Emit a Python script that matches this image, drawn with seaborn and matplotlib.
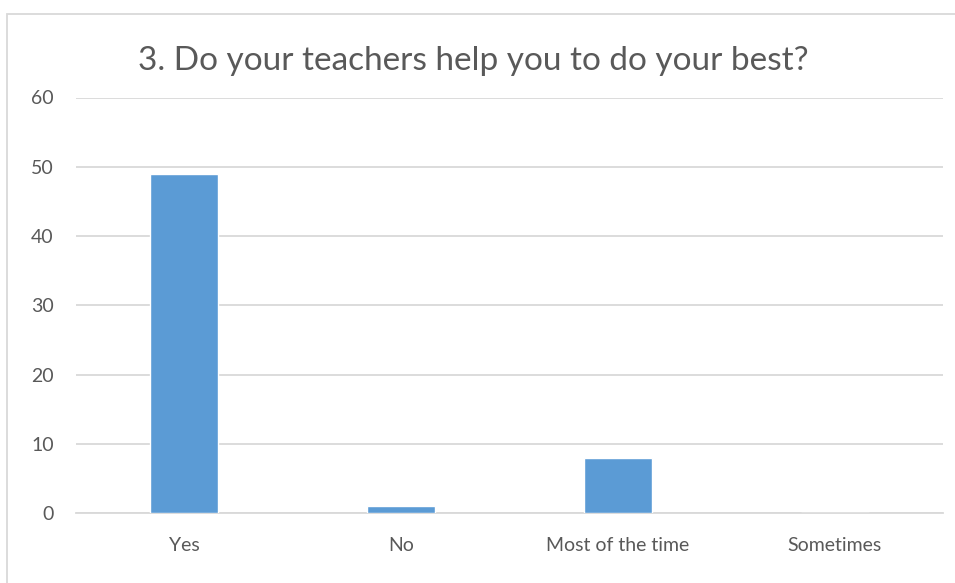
import matplotlib
matplotlib.use("Agg")
import matplotlib.pyplot as plt
import seaborn as sns
import pandas as pd
from matplotlib.patches import Rectangle

categories = ["Yes", "No", "Most of the time", "Sometimes"]
values = [49, 1, 8, 0]
yticks = [0, 10, 20, 30, 40, 50, 60]
title = "3. Do your teachers help you to do your best?"

sns.set_theme(style="white")
plt.rcParams["font.family"] = ["Lato", "DejaVu Sans"]

df = pd.DataFrame({"category": categories, "value": values})

fig = plt.figure(figsize=(9.55, 5.83), dpi=100)
ax = fig.add_axes([76/955, 1 - 513/583, (943 - 76)/955, (513 - 97.5)/583])

sns.barplot(data=df, x="category", y="value", color="#5B9BD5", width=0.314,
            saturation=1, ax=ax, zorder=3)

ax.set_ylim(0, 60)
ax.set_yticks(yticks)
ax.set_yticklabels([str(t) for t in yticks])
ax.set_xlim(-0.5, len(categories) - 0.5)
ax.yaxis.grid(True, color="#D9D9D9", linewidth=1.3, zorder=0)
ax.xaxis.grid(False)
for s in ["top", "right", "left"]:
    ax.spines[s].set_visible(False)
ax.spines["bottom"].set_color("#D9D9D9")
ax.spines["bottom"].set_linewidth(1.3)
ax.set_xlabel("")
ax.set_ylabel("")
ax.tick_params(axis="y", length=0, pad=16, labelsize=14, labelcolor="#595959")
ax.tick_params(axis="x", length=0, pad=17, labelsize=14, labelcolor="#595959")

fig.text(0.496, 1 - 70/583, title, ha="center", va="baseline", fontsize=24,
         color="#595959")

fig.patches.append(Rectangle((6.5/955, -0.1), 1.1, 1 - 14.5/583 + 0.1,
                             transform=fig.transFigure, fill=False,
                             edgecolor="#D9D9D9", linewidth=1.3, zorder=0))

fig.savefig("out.png", dpi=100)
